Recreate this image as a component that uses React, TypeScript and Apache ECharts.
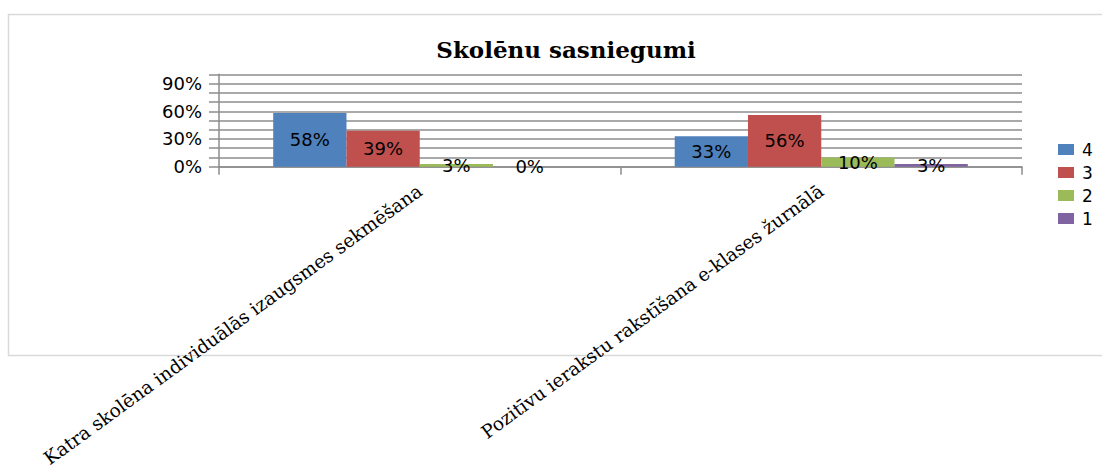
import React, { useEffect, useRef } from "react";
import * as echarts from "echarts";

const categories = [
  "Katra skolēna individuālās izaugsmes sekmēšana",
  "Pozitīvu ierakstu rakstīšana e-klases žurnālā",
];
const seriesNames = ["4", "3", "2", "1"];
const values4 = [0.58, 0.33];
const values3 = [0.39, 0.56];
const values2 = [0.03, 0.1];
const values1 = [0.0, 0.03];
const colors = ["#4F81BD", "#C0504D", "#9BBB59", "#8064A2"];
const yLabelValues = [0, 30, 60, 90];

export default function App() {
  const ref = useRef<HTMLDivElement>(null);
  useEffect(() => {
    if (!ref.current) return;
    const chart = echarts.init(ref.current, undefined, { renderer: "svg" });
    const all = [values4, values3, values2, values1];
    chart.setOption({
      animation: false,
      backgroundColor: "#ffffff",
      title: {
        text: "Skolēnu sasniegumi",
        left: 561,
        textAlign: "center",
        top: 33,
        textStyle: {
          fontFamily: "DejaVu Serif",
          fontWeight: "bold",
          fontSize: 23,
          color: "#000",
        },
      },
      graphic: [
        {
          type: "rect",
          shape: { x: 8.5, y: 14.5, width: 1110, height: 341 },
          style: { fill: "none", stroke: "#d9d9d9", lineWidth: 1.5 },
          z: -1,
        },
      ],
      legend: {
        orient: "vertical",
        left: 1053,
        top: 136,
        itemWidth: 16,
        itemHeight: 11,
        itemGap: 6,
        icon: "rect",
        data: seriesNames,
        textStyle: { fontFamily: "DejaVu Sans", fontSize: 17, color: "#000", padding: [0, 0, 0, 3] },
      },
      grid: {
        left: 219,
        right: 80,
        top: 74.3,
        bottom: 303.3,
        containLabel: false,
        outerBoundsMode: "none",
      },
      xAxis: {
        type: "category",
        data: categories,
        axisLine: { lineStyle: { color: "#8c8c8c", width: 1.5 } },
        axisTick: { show: true, length: 8, lineStyle: { color: "#8c8c8c", width: 1.5 } },
        axisLabel: {
          interval: 0,
          rotate: 36,
          margin: 22,
          fontFamily: "DejaVu Serif",
          fontSize: 18.5,
          color: "#000",
        },
      },
      yAxis: {
        type: "value",
        min: 0,
        max: 1,
        interval: 0.1,
        axisLine: { show: true, lineStyle: { color: "#8c8c8c", width: 1.5 } },
        axisTick: { show: true, length: 10, lineStyle: { color: "#8c8c8c", width: 1.5 } },
        splitLine: { show: true, lineStyle: { color: "#8c8c8c", width: 1.5 } },
        axisLabel: {
          margin: 17,
          fontFamily: "DejaVu Sans",
          fontSize: 18,
          color: "#000",
          formatter: (v: number) => {
            const p = Math.round(v * 100);
            return yLabelValues.includes(p) ? p + "%" : "";
          },
        },
      },
      series: seriesNames.map((name, i) => ({
        name,
        type: "bar",
        data: all[i],
        barGap: "0%",
        barCategoryGap: "27%",
        itemStyle: { color: colors[i] },
        label: {
          show: true,
          position: "inside",
          fontFamily: "DejaVu Sans",
          fontSize: 18,
          color: "#000",
          formatter: (p: any) => Math.round(p.value * 100) + "%",
        },
      })),
    });
    return () => chart.dispose();
  }, []);
  return (
    <div
      ref={ref}
      style={{ position: "absolute", left: 0, top: 0, width: 1102, height: 470 }}
    />
  );
}
